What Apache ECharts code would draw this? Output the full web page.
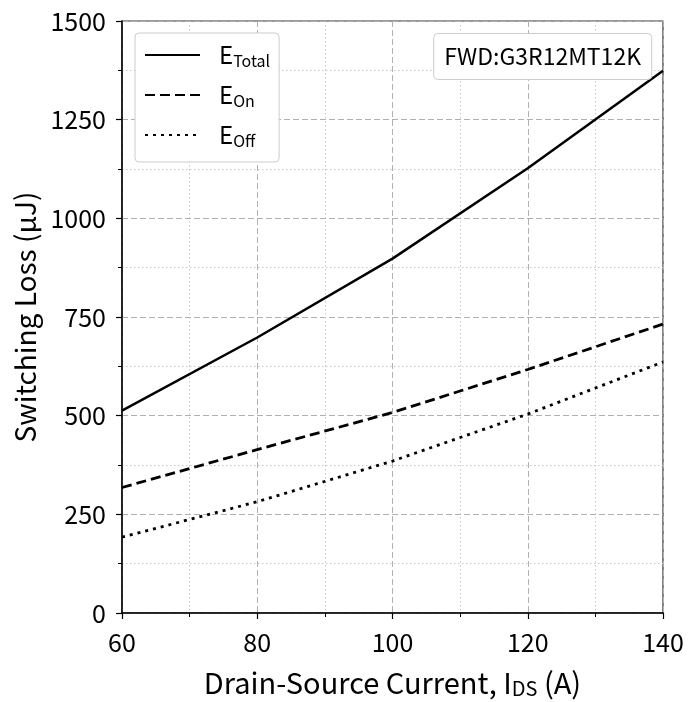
<!DOCTYPE html>
<html><head><meta charset="utf-8">
<script src="https://cdn.jsdelivr.net/npm/echarts@6/dist/echarts.min.js"></script>
<style>html,body{margin:0;padding:0;background:#fff}#c{width:689px;height:702px}</style>
</head><body><div id="c"></div>
<script>
const currents = [60, 80, 100, 120, 140];
const eTotal = [513, 698, 898, 1127, 1374];
const eOn = [318, 414, 508, 617, 732];
const eOff = [192, 282, 385, 504, 636];
const xTicks = [60, 80, 100, 120, 140];
const yTicks = [0, 250, 500, 750, 1000, 1250, 1500];
const FONT = '"Noto Sans CJK JP", "Noto Sans", sans-serif';

const chart = echarts.init(document.getElementById('c'), null, {renderer: 'canvas'});
const pairs = a => currents.map((x, i) => [x, a[i]]);
const sub = {
  a: {fontFamily: FONT, fontSize: 24, color: '#000', padding: [0, 0, 0, 14]},
  b: {fontFamily: FONT, fontSize: 16, color: '#000', padding: [12, 0, 0, 0]}
};
chart.setOption({
  animation: false,
  textStyle: {fontFamily: FONT},
  grid: {left: 122, right: 26, top: 21, bottom: 89, show: true, borderColor: '#333', borderWidth: 1.2,
    outerBoundsMode: 'none', containLabel: false},
  title: {
    text: 'FWD:G3R12MT12K', right: 37, top: 33,
    padding: [12, 11, 12, 11],
    borderColor: '#ccc', borderWidth: 1, borderRadius: 4, backgroundColor: '#fff',
    textStyle: {fontFamily: FONT, fontSize: 23, fontWeight: 'normal', color: '#000'}
  },
  legend: {
    left: 135, top: 33, orient: 'vertical', itemWidth: 55, itemHeight: 14, itemGap: 14,
    padding: [10, 9, 13, 9],
    borderColor: '#ccc', borderWidth: 1, borderRadius: 4, backgroundColor: '#fff',
    itemStyle: {opacity: 0},
    data: ['Total', 'On', 'Off'],
    formatter: n => '{a|E}{b|' + n + '}',
    textStyle: {rich: sub}
  },
  xAxis: {
    type: 'value', min: 60, max: 140, interval: 20,
    name: 'Drain-Source Current, I{s|DS} (A)',
    nameLocation: 'middle', nameGap: 55,
    nameTextStyle: {fontFamily: FONT, fontSize: 29, color: '#000',
      rich: {s: {fontFamily: FONT, fontSize: 20, color: '#000', padding: [10, 0, 0, 0]}}},
    axisLine: {show: true, onZero: false, lineStyle: {color: '#000', width: 1.5}},
    axisTick: {show: true, inside: false, length: 6, lineStyle: {color: '#000', width: 1.2}},
    minorTick: {show: true, splitNumber: 2, length: 4, lineStyle: {color: '#000', width: 1}},
    axisLabel: {fontFamily: FONT, fontSize: 25, color: '#000', margin: 17,
      formatter: v => xTicks.includes(v) ? String(v) : ''},
    splitLine: {show: true, lineStyle: {color: '#b0b0b0', type: [6, 3], width: 1}},
    minorSplitLine: {show: true, lineStyle: {color: '#c8c8c8', type: [1.5, 2.5], width: 1}}
  },
  yAxis: {
    type: 'value', min: 0, max: 1500, interval: 250,
    name: 'Switching Loss (μJ)', nameLocation: 'middle', nameGap: 80,
    nameTextStyle: {fontFamily: FONT, fontSize: 28, color: '#000'},
    axisLine: {show: true, lineStyle: {color: '#000', width: 1.5}},
    axisTick: {show: true, length: 6, lineStyle: {color: '#000', width: 1.2}},
    minorTick: {show: true, splitNumber: 2, length: 4, lineStyle: {color: '#000', width: 1}},
    axisLabel: {fontFamily: FONT, fontSize: 25, color: '#000', margin: 16,
      formatter: v => yTicks.includes(v) ? String(v) : ''},
    splitLine: {show: true, lineStyle: {color: '#b0b0b0', type: [6, 3], width: 1}},
    minorSplitLine: {show: true, lineStyle: {color: '#c8c8c8', type: [1.5, 2.5], width: 1}}
  },
  series: [
    {name: 'Total', type: 'line', data: pairs(eTotal), symbol: 'none',
      lineStyle: {color: '#000', width: 2.5, type: 'solid'}, itemStyle: {color: '#000'}},
    {name: 'On', type: 'line', data: pairs(eOn), symbol: 'none',
      lineStyle: {color: '#000', width: 2.8, type: [10, 5]}, itemStyle: {color: '#000'}},
    {name: 'Off', type: 'line', data: pairs(eOff), symbol: 'none',
      lineStyle: {color: '#000', width: 2.8, type: [3, 5]}, itemStyle: {color: '#000'}}
  ]
});
</script></body></html>
